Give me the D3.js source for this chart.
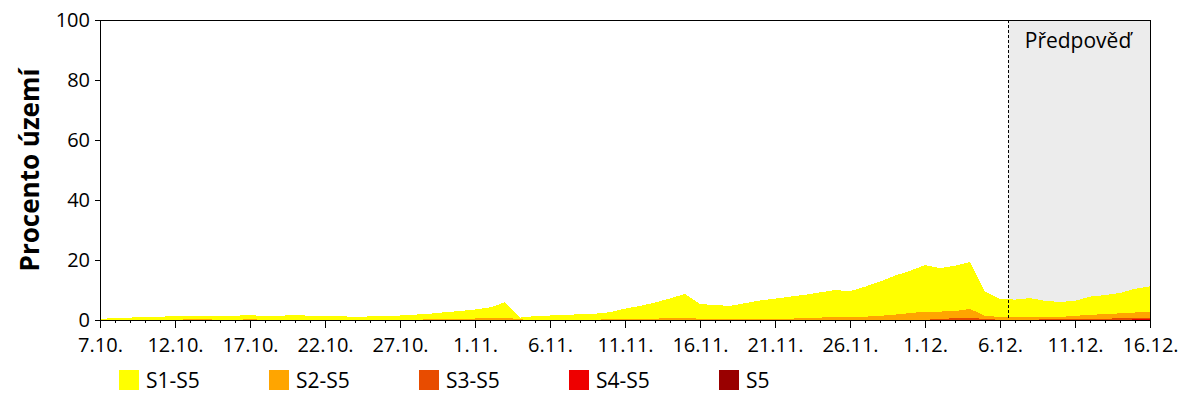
<!DOCTYPE html>
<html><head><meta charset="utf-8">
<script src="https://cdn.jsdelivr.net/npm/d3@7"></script>
<style>
body{margin:0;background:#fff;}
text{font-family:"Open Sans","Noto Sans",sans-serif;fill:#000;}
</style></head>
<body><svg id="c" width="1200" height="400"></svg>
<script>
// days since 7.10.
const startDate = new Date(2024, 9, 7);
const nDays = 70;
const forecastStart = 60.55; // day offset where forecast begins
const forecastLabel = "Předpověď";
const yTitle = "Procento území";
const seriesNames = ["S1-S5", "S2-S5", "S3-S5", "S4-S5", "S5"];
const seriesColors = ["#ffff00", "#ffa500", "#e84c00", "#ee0000", "#990000"];
const yTicks = [0, 20, 40, 60, 80, 100];

const s1 = [0.3,0.7,0.8,1.0,1.1,1.3,1.4,1.4,1.4,1.4,1.7,1.2,1.4,1.7,1.4,1.3,1.3,1.0,1.2,1.3,1.5,1.8,2.1,2.6,3.0,3.5,4.2,5.9,0.8,1.3,1.5,1.6,2.0,2.1,2.6,3.8,4.7,5.8,7.2,8.7,5.3,5.0,4.7,5.6,6.5,7.1,7.8,8.4,9.2,10.0,9.6,11.1,12.8,14.8,16.4,18.3,17.3,18.1,19.3,9.5,7.0,6.8,7.3,6.4,6.0,6.4,7.8,8.3,9.0,10.4,11.2];
const s2 = [0,0,0,0,0,0,0.3,0.3,0,0,0.3,0,0,0,0,0,0,0,0,0,0,0,0.3,0.4,0.5,0.5,0.8,0.8,0.2,0,0,0,0,0,0.4,0.4,0.4,0.4,0.8,0.8,0.4,0.4,0.4,0.4,0.4,0.4,0.4,0.8,0.8,1.0,1.1,1.1,1.4,1.8,2.3,2.8,2.8,3.0,3.7,1.4,1.0,1.0,1.0,1.0,1.0,1.4,1.7,2.0,2.2,2.5,2.8];
const s3 = [0,0,0,0,0,0,0,0,0,0,0,0,0,0,0,0,0,0,0,0,0,0,0,0,0,0,0,0,0,0,0,0,0,0,0,0,0,0,0,0,0,0,0,0,0,0,0,0,0,0,0,0.1,0.15,0.15,0.15,0.15,0.2,0.7,0.8,0.3,0.1,0.1,0.1,0.2,0.2,0.2,0.3,0.4,0.6,0.7,0.8];
const s4 = [0,0,0,0,0,0,0,0,0,0,0,0,0,0,0,0,0,0,0,0,0,0,0,0,0,0,0,0,0,0,0,0,0,0,0,0,0,0,0,0,0,0,0,0,0,0,0,0,0,0,0,0,0,0,0,0,0,0,0,0,0,0,0,0,0,0,0,0,0,0.2,0.2];
const s5 = new Array(71).fill(0);
const series = [s1, s2, s3, s4, s5];

const svg = d3.select("#c");
const L = 100, R = 1150, T = 20, B = 320;
const x = d3.scaleLinear().domain([0, nDays]).range([L, R]);
const y = d3.scaleLinear().domain([0, 100]).range([B, T]);
const fmt = d => { const dt = d3.timeDay.offset(startDate, d); return dt.getDate() + "." + (dt.getMonth() + 1) + "."; };

// forecast background
svg.append("rect").attr("x", x(forecastStart)).attr("y", T)
  .attr("width", x(nDays) - x(forecastStart)).attr("height", B - T).attr("fill", "#ececec");

// areas
const area = d3.area().x((d, i) => x(i)).y0(y(0)).y1(d => y(d));
series.forEach((s, k) => {
  svg.append("path").datum(s).attr("d", area).attr("fill", seriesColors[k])
    .attr("shape-rendering", "crispEdges");
});

// forecast line
svg.append("line").attr("x1", x(forecastStart)).attr("x2", x(forecastStart))
  .attr("y1", T).attr("y2", B).attr("stroke", "#000").attr("stroke-width", 1)
  .attr("stroke-dasharray", "3,2").attr("shape-rendering", "crispEdges");
svg.append("text").attr("x", 1078).attr("y", 48)
  .attr("text-anchor", "middle").attr("font-size", 21).text(forecastLabel);

// frame top/right
svg.append("path").attr("d", `M${L},${T}H${R}V${B}`).attr("fill", "none")
  .attr("stroke", "#000").attr("shape-rendering", "crispEdges");

// y axis
const ya = svg.append("g").attr("transform", `translate(${L},0)`)
  .call(d3.axisLeft(y).tickValues(yTicks).tickSize(5).tickPadding(5));
ya.selectAll("text").attr("font-size", 20).style("font-family", '"Open Sans",sans-serif');

// x axis minor + major
const xm = svg.append("g").attr("transform", `translate(0,${B})`)
  .call(d3.axisBottom(x).tickValues(d3.range(0, nDays + 1)).tickSize(3).tickFormat(""));
xm.select(".domain").remove();
const xa = svg.append("g").attr("transform", `translate(0,${B})`)
  .call(d3.axisBottom(x).tickValues(d3.range(0, nDays + 1, 5)).tickSize(8).tickPadding(10).tickFormat(fmt));
xa.selectAll("text").attr("font-size", 20).style("font-family", '"Open Sans",sans-serif');
svg.selectAll(".tick line, .domain").attr("shape-rendering", "crispEdges");

// y title
svg.append("text").attr("transform", `translate(39,${(T + B) / 2}) rotate(-90)`)
  .attr("text-anchor", "middle").attr("font-size", 26).attr("font-weight", "bold").text(yTitle);

// legend
const lg = svg.append("g");
seriesNames.forEach((n, k) => {
  const lx = 119 + k * 150;
  lg.append("rect").attr("x", lx).attr("y", 370).attr("width", 20).attr("height", 20).attr("fill", seriesColors[k]);
  lg.append("text").attr("x", lx + 27).attr("y", 388).attr("font-size", 21).text(n);
});
</script></body></html>
